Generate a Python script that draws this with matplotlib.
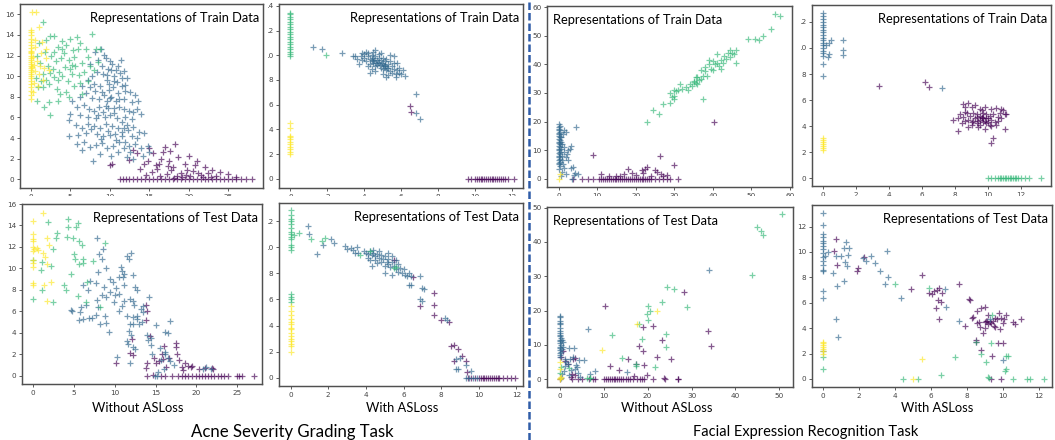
import numpy as np
import matplotlib
matplotlib.use('Agg')
import matplotlib.pyplot as plt
from matplotlib.patches import Rectangle
from matplotlib.lines import Line2D

# class colours (viridis, 4 classes)
class_colors = [plt.cm.viridis(v) for v in (0.0, 1 / 3, 2 / 3, 1.0)]

# ---------------- Acne, train, without ASLoss ----------------
acne_tr_wo_purple = [(11.3,0),(11.7,0),(12.1,0),(12.5,0),(13.0,0),(13.5,0),(14.0,0),(14.5,0),(15.0,0),(15.5,0),
    (16.0,0),(16.5,0),(17.0,0),(17.5,0),(18.0,0),(18.5,0),(19.0,0),(19.5,0),(20.0,0),(20.5,0),(21.0,0),(21.5,0),
    (22.0,0),(22.5,0),(23.0,0),(23.5,0),(24.0,0),(24.5,0),(25.0,0),(25.5,0),(26.0,0),(26.6,0),(27.2,0),(28.0,0),
    (10.3,1.5),(10.0,1.4),(12.5,1.9),(13.5,2.5),(14.3,1.5),(15.0,3.0),(15.5,2.5),(16.0,1.0),(16.5,2.0),(17.0,3.1),
    (17.5,1.8),(18.0,1.2),(18.3,3.4),(18.7,2.2),(19.0,0.6),(19.5,1.5),(20.0,2.3),(20.5,0.8),(21.0,1.8),(21.6,0.4),
    (22.0,1.2),(22.5,0.6),(23.0,0.9),(23.5,0.3),(24.0,0.7),(25.0,0.5),(26.0,0.2),(15.3,0.7),(16.2,1.5),(17.2,0.5),
    (17.8,0.9),(18.5,0.3),(19.2,0.2),(20.2,0.3),(21.2,0.6),(14.6,0.4),(13.8,1.0),(16.8,2.6),(19.8,0.9),(20.8,1.4),
    (22.8,0.2),(17.6,2.7),(12.9,2.8),(14.8,1.8),(18.2,0.1),(19.6,0.4),(21.8,0.2),(17.4,1.3),(16.4,0.3),(15.8,1.4)]
acne_tr_wo_blue = [(8.9,12.6),(9.3,12.1),(10.0,11.5),(8.2,12.3),(7.5,11.2),(8.5,11.6),(9.5,11.8),(10.3,11.2),
    (11.0,11.0),(9.0,11.0),(10.8,10.6),(7.8,10.0),(8.4,10.4),(9.2,10.2),(9.8,10.7),(10.5,10.0),(11.3,10.3),
    (11.8,10.5),(12.2,9.8),(9.6,9.6),(10.9,9.4),(8.0,9.2),(7.2,9.6),(11.6,9.8),(6.5,9.0),(7.0,8.4),(7.5,8.9),
    (8.2,8.6),(8.8,9.0),(9.3,8.2),(9.9,8.7),(10.4,8.9),(11.0,8.4),(11.5,9.0),(12.0,8.6),(12.6,8.5),(13.2,8.2),
    (6.2,8.0),(7.7,7.9),(8.6,7.8),(9.6,7.6),(10.2,8.0),(10.8,7.6),(11.8,7.8),(12.8,7.5),(13.6,7.6),(5.2,7.6),
    (5.8,7.0),(6.8,7.2),(7.4,6.8),(8.0,6.6),(8.6,7.0),(9.1,6.5),(9.8,6.9),(10.5,6.9),(11.2,7.0),(11.8,6.8),
    (12.4,6.6),(13.0,6.5),(13.5,6.8),(14.0,6.3),(5.0,6.3),(6.2,6.2),(7.2,6.0),(8.3,5.9),(9.4,6.0),(10.1,6.2),
    (10.9,5.9),(12.0,6.0),(12.8,5.8),(4.9,5.7),(5.7,5.3),(6.5,5.0),(7.3,5.4),(8.0,5.2),(8.8,5.0),(9.5,5.4),
    (10.3,5.2),(11.0,5.0),(11.8,5.0),(12.3,4.8),(13.0,5.1),(13.7,4.6),(14.4,4.5),(4.8,4.2),(6.0,4.3),(7.0,4.5),
    (8.4,4.4),(9.2,4.2),(10.0,4.3),(10.7,4.4),(11.5,4.2),(12.8,4.2),(13.5,4.0),(5.9,3.4),(6.7,3.6),(7.5,3.1),
    (8.3,3.3),(9.0,3.5),(9.6,3.0),(10.4,3.2),(11.2,3.6),(11.8,3.0),(12.5,3.2),(13.2,3.4),(14.0,3.0),(14.8,3.2),
    (6.5,2.8),(7.9,1.8),(8.8,2.4),(10.2,2.3),(11.0,2.6),(12.2,2.2),(13.0,2.0),(14.2,2.3),(15.0,2.6),(9.9,9.2),
    (10.6,9.5),(9.0,8.5),(10.0,7.9),(11.2,7.8),(9.5,7.1),(10.6,6.4),(8.5,6.2),(11.5,5.6),(12.2,5.3),(9.8,4.7),
    (10.8,3.8),(11.6,4.6),(7.6,4.9),(8.9,3.9),(12.0,3.6),(12.6,2.6),(11.4,11.6),(9.7,10.1),(10.2,10.6),(11.9,9.1)]
acne_tr_wo_green = [(1.6,15.3),(2.5,13.9),(3.0,13.9),(4.0,13.4),(4.5,13.0),(5.0,13.6),(5.8,13.8),(6.2,13.2),
    (7.8,14.1),(1.0,13.2),(2.0,13.5),(3.5,12.8),(4.2,12.2),(5.3,12.5),(6.0,12.6),(7.0,12.6),(8.3,12.6),(8.8,12.6),
    (0.8,12.0),(1.8,12.3),(2.6,12.0),(3.2,11.5),(3.8,11.8),(4.8,11.6),(5.5,11.9),(6.5,11.3),(7.3,11.9),(1.2,11.3),
    (2.2,11.0),(2.8,10.7),(3.6,10.4),(4.4,10.9),(5.0,10.7),(5.6,11.0),(6.1,10.1),(7.5,11.0),(0.7,9.8),(1.5,10.2),
    (2.0,9.6),(2.9,9.9),(3.4,9.6),(4.0,10.0),(4.7,9.5),(5.2,10.2),(6.3,9.3),(8.0,10.6),(0.9,8.9),(1.6,8.9),
    (2.3,9.2),(3.3,8.8),(4.5,8.5),(6.5,8.3),(0.8,7.6),(2.3,7.5),(3.5,7.6),(4.8,8.0),(2.4,6.2),(1.7,7.0),
    (3.7,8.3),(5.5,9.0),(6.8,10.4),(7.2,9.5),(8.5,11.4),(4.0,12.6),(3.0,12.3),(5.2,11.1),(2.5,10.3),(1.3,9.5)]
acne_tr_wo_yellow = [(0,7.8),(0,8.2),(0,8.6),(0,8.9),(0,9.2),(0,9.5),(0,9.8),(0,10.0),(0,10.2),(0,10.4),(0,10.6),
    (0,10.8),(0,11.0),(0,11.2),(0,11.4),(0,11.6),(0,11.8),(0,12.0),(0,12.2),(0,12.4),(0,12.7),(0,13.0),(0,13.3),
    (0,13.6),(0,14.0),(0,14.3),(0,14.5),(0.2,16.2),(0.7,16.2),(1.0,14.8),(0.4,9.3),(0.6,10.5),(0.8,11.5),(1.1,10.2),
    (1.3,12.2),(0.5,12.8),(1.5,9.6),(1.2,11.0),(0.3,11.9),(1.7,10.8),(2.0,11.8),(0.9,9.0),(0.6,13.5),(2.3,10.6),
    (1.9,12.6),(1.4,13.3),(0.3,8.5),(0.2,10.9),(0.1,12.3),(0.4,11.1)]

# ---------------- Acne, train, with ASLoss ----------------
acne_tr_w_purple = [(9.6,0),(9.8,0),(10.0,0),(10.1,0),(10.2,0),(10.3,0),(10.4,0),(10.5,0),(10.6,0),(10.7,0),
    (10.8,0),(10.9,0),(11.0,0),(11.1,0),(11.2,0),(11.3,0),(11.4,0),(11.5,0),(11.6,0),(11.8,0),(12.1,0),
    (6.5,5.9),(6.55,5.4)]
acne_tr_w_blue = [(1.2,10.7),(1.7,10.5),(2.8,10.2),(3.5,9.95),(3.6,9.7),(3.8,9.9),(3.9,9.6),(4.0,10.1),(4.0,9.8),
    (4.1,9.5),(4.2,10.2),(4.2,9.9),(4.3,9.7),(4.3,9.3),(4.4,10.0),(4.4,9.6),(4.5,10.3),(4.5,9.8),(4.5,9.4),(4.6,9.1),
    (4.6,9.9),(4.7,9.6),(4.7,9.2),(4.8,10.1),(4.8,9.8),(4.8,9.4),(4.9,9.0),(4.9,9.6),(5.0,9.3),(5.0,9.8),(5.0,8.9),
    (5.1,9.5),(5.1,9.1),(5.2,9.7),(5.2,8.8),(5.3,9.3),(5.3,9.0),(5.4,8.7),(5.4,9.5),(5.5,9.1),(5.5,8.6),(5.6,8.9),
    (5.6,9.4),(5.7,8.5),(5.8,8.8),(5.9,9.0),(5.9,8.6),(6.0,8.5),(6.2,8.3),(4.2,9.1),(4.4,8.9),(3.7,9.3),(4.6,8.7),
    (5.0,8.5),(5.3,8.4),(4.1,10.3),(4.6,10.4),(5.6,9.9),(5.8,9.4),(5.4,10.0),(4.9,10.2),(3.4,9.9),(3.9,10.2),
    (4.3,8.6),(5.2,8.2),(5.7,8.2),(6.1,8.8),(6.8,6.85),(6.8,5.3),(7.0,4.8),
    (4.45,9.5),(4.65,9.35),(4.85,9.25),(5.05,9.15),(4.75,9.45),(4.95,9.35),(5.15,9.25),(4.55,9.65),(5.25,9.0)]
acne_tr_w_green = [(0,9.9),(0,10.1),(0,10.3),(0,10.5),(0,10.7),(0,10.9),(0,11.1),(0,11.3),(0,11.5),(0,11.7),
    (0,11.9),(0,12.1),(0,12.3),(0,12.5),(0,12.7),(0,12.9),(0,13.1),(0,13.3),(0,13.45),(1.95,10.05)]
acne_tr_w_yellow = [(0,2.0),(0,2.2),(0,2.4),(0,2.6),(0,2.8),(0,3.0),(0,3.2),(0,3.4),(0,3.5),(0,4.1),(0,4.55)]

# ---------------- Acne, test, without ASLoss ----------------
acne_te_wo_purple = [(13.8,6.6),(14.0,6.0),(13.8,5.2),(12.1,3.4),(11.9,2.1),(12.2,1.9),(10.2,1.2),(13.9,1.2),
    (13.8,0.7),(14.7,0.1),(14.0,0),(14.3,3.7),(14.8,1.7),(15.0,1.2),(15.4,1.4),(15.8,2.0),(16.0,2.8),(15.9,1.6),
    (16.7,1.7),(16.3,0.8),(17.5,3.1),(17.5,2.7),(17.6,2.0),(17.9,1.5),(18.2,0.8),(18.6,1.2),(18.3,0.5),(19.0,0.9),
    (19.3,0.8),(19.5,0.9),(20.3,0.6),(21.0,0.7),(21.9,0.7),(22.0,0.6),(15.7,0),(16.2,0),(17.0,0),(17.8,0),(18.2,0),
    (18.6,0),(19.0,0),(19.5,0),(20.0,0),(20.3,0),(20.7,0),(21.0,0),(21.4,0),(21.8,0),(22.2,0),(22.6,0),(23.0,0),
    (23.4,0),(23.8,0),(24.9,0),(25.2,0),(25.6,0),(27.0,0)]
acne_te_wo_blue = [(7.9,12.8),(8.6,11.8),(8.1,11.3),(8.5,10.9),(11.5,11.2),(12.0,11.4),(11.8,10.9),(10.8,10.1),
    (10.9,9.8),(11.2,9.5),(10.5,9.2),(11.0,9.2),(12.3,9.4),(9.0,10.0),(8.0,9.7),(9.4,9.0),(9.8,8.7),(10.2,8.2),
    (9.5,7.8),(10.0,7.5),(10.5,7.6),(11.2,8.5),(12.5,8.3),(12.8,8.0),(8.7,8.3),(7.7,8.6),(6.8,8.0),(6.2,8.5),
    (7.8,7.1),(9.0,7.3),(9.9,6.9),(11.2,7.0),(11.9,7.2),(12.2,7.0),(12.4,6.6),(13.2,6.2),(13.5,5.9),(14.2,7.3),
    (10.9,6.5),(10.5,6.0),(11.5,5.6),(12.2,5.5),(12.7,5.6),(13.3,5.0),(13.0,4.8),(12.3,4.8),(11.9,4.8),(8.0,6.4),
    (7.3,5.4),(6.9,5.4),(6.2,5.3),(5.6,5.2),(5.8,5.9),(6.5,6.6),(5.9,6.4),(4.7,6.1),(4.8,6.0),(7.7,5.7),(8.2,4.8),
    (9.0,4.9),(9.3,4.1),(8.8,5.6),(11.8,4.2),(11.5,3.2),(11.7,3.0),(12.0,3.8),(12.5,2.5),(12.3,2.7),(14.0,3.8),
    (14.4,3.5),(14.1,3.3),(15.0,4.7),(16.2,4.1),(16.5,4.0),(16.8,5.1),(14.4,2.9),(14.6,2.0),(15.6,2.6),(15.7,1.5),
    (16.5,1.7),(16.8,1.4),(17.2,1.0),(16.0,0.6),(15.3,0.4),(14.9,0),(15.2,0),(10.3,1.8),(11.9,1.2),(16.1,2.2),
    (16.2,2.0),(21.8,0.6),(21.2,0.8),(20.8,0.6),(13.5,6.5),(12.8,5.3),(7.0,8.8),(8.5,7.5)]
acne_te_wo_green = [(4.3,14.6),(1.9,14.3),(5.5,14.2),(5.3,13.9),(4.3,13.9),(3.0,13.3),(2.9,12.8),(4.2,12.9),
    (4.9,12.8),(5.7,12.6),(6.0,12.2),(2.5,11.8),(5.0,11.3),(5.2,10.9),(5.6,10.4),(6.1,10.5),(6.2,10.9),(1.2,10.6),
    (0.1,10.8),(1.0,9.9),(2.2,10.2),(4.7,9.5),(8.8,12.4),(6.6,8.7),(3.8,8.5),(4.1,8.0),(1.2,8.0),(2.5,6.9),
    (0.1,7.2),(5.5,7.4),(8.2,6.4),(7.4,10.7),(6.5,6.9)]
acne_te_wo_yellow = [(1.3,15.2),(0,14.4),(0,13.2),(0,12.7),(0.1,12.6),(0,12.0),(0.2,11.8),(0.5,11.9),(0.1,11.6),
    (0,10.8),(0,10.5),(0.1,10.1),(0,8.6),(0.1,8.5),(1.3,11.4),(1.5,11.1),(1.8,12.8),(2.0,12.2),(1.8,10.4),
    (2.2,8.7),(1.4,8.5),(1.8,7.0),(0.6,11.7)]

# ---------------- Acne, test, with ASLoss ----------------
acne_te_w_purple = [(6.5,7.7),(5.5,9.0),(7.6,6.5),(7.6,5.6),(7.6,4.8),(6.9,5.5),(8.0,4.4),(8.4,4.3),(8.5,2.4),
    (8.7,2.5),(8.9,2.2),(8.7,1.25),(9.1,1.7),(9.3,1.25),(9.35,0.4),(9.4,0),(9.6,0),(9.8,0),(10.0,0),(10.1,0),
    (10.2,0),(10.3,0),(10.4,0),(10.5,0),(10.6,0),(10.7,0),(10.8,0),(10.9,0),(11.0,0),(11.1,0),(11.3,0),(11.5,0),
    (11.7,0),(11.9,0)]
acne_te_w_blue = [(0.9,11.65),(1.0,11.0),(1.7,10.2),(2.15,10.65),(2.3,10.35),(1.4,9.5),(2.9,10.1),(3.2,9.95),
    (3.3,9.8),(3.4,9.55),(3.5,10.0),(3.9,9.7),(4.0,9.6),(4.1,9.5),(4.2,9.7),(4.1,9.2),(4.3,9.4),(4.4,9.6),(4.5,9.3),
    (4.5,9.0),(4.6,9.5),(4.7,9.2),(4.8,9.4),(4.8,8.9),(4.9,9.1),(5.0,9.3),(5.0,8.6),(5.1,8.9),(5.2,9.1),(5.2,8.7),
    (5.3,8.5),(5.4,8.9),(5.5,8.6),(5.6,8.3),(5.7,8.7),(5.7,8.1),(5.8,8.4),(5.9,8.0),(6.0,8.3),(6.1,7.9),(6.2,7.8),
    (6.3,8.0),(6.4,7.8),(4.3,8.6),(4.6,8.8),(5.4,7.9),(5.0,8.0),(4.2,9.0),(4.4,9.8),(4.7,9.7),(5.2,9.6),(5.4,9.3),
    (5.6,9.0),(3.6,9.6),(3.0,9.9),(6.3,7.1),(6.4,7.1),(6.9,7.8),(7.0,6.9),(7.1,6.8),(6.9,6.0),(7.0,5.9),(8.2,4.6),
    (8.3,4.4),(8.8,1.4),(8.8,0.7),(8.9,0.7),(9.0,1.5),(9.3,1.0),(9.6,0.5),(9.3,0),(9.5,0),(9.7,0),(9.9,0)]
acne_te_w_green = [(0,9.8),(0,10.0),(0,10.2),(0,10.6),(0,10.8),(0,11.0),(0,11.2),(0,11.5),(0,11.8),(0,12.0),
    (0,12.2),(0,12.5),(0,12.85),(0.2,10.95),(0.45,11.1),(1.1,10.6),(1.65,10.5),(1.85,10.75),(3.7,9.4),(4.2,9.75),
    (5.5,8.4),(5.6,8.5),(0,5.8),(0,6.0),(0,6.2),(0,6.45)]
acne_te_w_yellow = [(0,2.0),(0,2.4),(0,2.6),(0,2.8),(0,3.0),(0,3.2),(0,3.4),(0,3.7),(0,3.8),(0,4.1),(0,4.3),
    (0,4.5),(0,4.8),(0,5.1),(0,5.5)]

# ---------------- Facial expression, train, without ASLoss ----------------
fer_tr_wo_purple = [(3.8,0),(6,0),(7.5,0),(9,0),(10.5,0),(11,0),(11.5,0),(12,0),(12.5,0),(13,0),(13.5,0),(14,0),
    (14.5,0),(15,0),(15.5,0),(16,0),(16.5,0),(17,0),(17.5,0),(18,0),(18.5,0),(19,0),(19.5,0),(20,0),(20.5,0),
    (21,0),(21.5,0),(22,0),(22.5,0),(23,0),(23.5,0),(24,0),(25,0),(26,0),(27,0),(28,0),(29,0),(31,0),
    (9,8.2),(26.2,8),(40.3,19.8),(30,4.8),(11,1.5),(15,1),(17,1.8),(18,3.5),(21.5,3),(22.5,3.3),(23,4),(25,3),
    (25.5,2.5),(26.5,1.5),(24,1),(16,0.8),(20,1.2),(27,0.8),(13,1),(19,2),(28,1.2),(22,2)]
fer_tr_wo_blue = [(0.1,3.5),(0.3,4.5),(0.0,5.0),(0.2,5.5),(0.4,6.0),(0.1,6.5),(0.3,7.0),(0.0,7.5),(0.2,8.0),
    (0.4,8.5),(0.1,9.0),(0.3,9.5),(0.0,10),(0.2,10.5),(0.4,11),(0.1,11.5),(0.3,12),(0.0,12.5),(0.2,13),(0.4,13.5),
    (0.1,14),(0.3,14.5),(0.0,15),(0.2,15.5),(0.1,16),(0.3,16.5),(0.0,17),(0.2,17.5),(0.1,18),(0.3,18.5),(0.0,19),
    (1.5,17.0),(2.0,16.5),(4.5,18.0),(1.0,12),(1.5,11),(2.5,10.0),(3.0,10.5),(3.3,11.5),(0.8,8),(1.8,7.5),(2.5,6.5),
    (1.2,5),(1.5,3.8),(0.8,2.5),(2.0,1.5),(3.3,3.8),(3.7,4.0),(4.2,2.0),(4.0,1.3),(5.0,1.5),(0.5,1.0),(1.0,6.5),
    (2.2,8.5),(1.3,9.5),(0.7,14.5),(1.2,15.5),(3.5,0),(0.6,10.5),(0.7,12.8)]
fer_tr_wo_green = [(23,20),(24.5,24.2),(26,22.5),(27,26),(29,26.5),(29,30),(29.5,28.5),(30,29),(30.5,30.5),
    (31,31),(31.5,33),(29.8,28),(32,31.5),(33,32),(34,33),(34.5,32.5),(35,34),(35.5,33.5),(36,33),(36,35.5),
    (37,35),(37.5,36),(37,38),(38,37.5),(38.5,36),(39,40),(39.5,38.5),(40,41),(40.5,40),(41,40.5),(41.5,39.5),
    (42,41.5),(42.5,40.5),(43,43),(43.5,42),(44,44),(44.5,42.5),(45,44),(45.5,43.5),(46,45),(46,40.5),(37.5,28),
    (35,33.8),(38,39),(40,38),(42,38.5),(49,49),(51,49),(52,48.5),(53,50),(55,52.5),(56.2,57.5),(57.5,57),
    (33.5,31),(36.5,34.5),(39,41.5),(44.5,45),(41,43.5),(35.5,35.5),(30,31)]
fer_tr_wo_yellow = [(0,0),(0.4,1.8)]

# ---------------- Facial expression, train, with ASLoss ----------------
fer_tr_w_purple = [(8.5,5.7),(8.6,5.5),(8.8,5.8),(9.0,5.5),(9.2,5.6),(9.5,5.3),(9.8,5.5),(10.2,5.3),(10.5,5.4),
    (10.8,5.3),(11.0,4.9),(10.9,5.2),(8.3,4.9),(8.5,4.7),(8.7,5.0),(8.9,4.8),(9.1,5.0),(9.3,4.9),(9.5,4.8),
    (9.7,5.0),(9.9,4.9),(10.1,4.8),(10.3,4.9),(10.6,4.7),(10.8,4.6),(11.1,4.9),(8.2,4.6),(8.6,4.4),(8.8,4.5),
    (9.0,4.3),(9.2,4.6),(9.4,4.4),(9.6,4.6),(9.8,4.4),(10.0,4.6),(10.2,4.5),(10.4,4.3),(10.6,4.4),(8.4,4.2),
    (9.0,4.1),(9.3,4.2),(9.5,4.1),(9.7,4.3),(9.9,4.2),(10.1,4.1),(10.5,4.1),(8.8,3.9),(9.4,3.9),(9.8,3.8),
    (10.2,4.0),(9.6,4.7),(9.5,4.5),(9.7,4.6),(9.3,4.7),(10.0,4.3),(9.1,4.4),(9.9,4.6),(10.7,5.0),(8.6,5.1),
    (9.6,5.2),(10.2,2.7),(10.3,3.1),(11.0,3.8),(8.2,3.6),(7.9,4.5),(3.4,7.1),(6.2,7.35),(6.45,7.0)]
fer_tr_w_blue = [(0,9.4),(0,9.6),(0,9.8),(0,10.0),(0,10.2),(0,10.4),(0,10.6),(0,10.8),(0,11.0),(0,11.2),(0,11.4),
    (0,11.6),(0,11.8),(0,12.0),(0,12.2),(0,12.45),(0,12.7),(0,8.75),(0,7.85),(0.3,9.3),(0.4,10.4),(0.5,10.6),
    (0.35,9.5),(1.2,9.85),(1.2,9.45),(1.25,10.65),(0.2,10.2),(7.2,6.9)]
fer_tr_w_green = [(10.0,0),(10.2,0),(10.4,0),(10.6,0),(10.7,0),(10.8,0),(10.9,0),(11.0,0),(11.1,0),(11.2,0),
    (11.3,0),(11.4,0),(11.5,0),(11.6,0),(11.7,0),(11.8,0),(12.0,0),(12.2,0),(12.5,0),(13.2,0)]
fer_tr_w_yellow = [(0,2.2),(0,2.35),(0,2.5),(0,2.65),(0,2.8),(0,2.95),(0,3.1)]

# ---------------- Facial expression, test, without ASLoss ----------------
fer_te_wo_purple = [(10.4,21.3),(28.3,25.3),(21.2,15.6),(19,15.3),(33.8,14),(34.5,9.6),(23.3,11.4),(18,9.6),
    (19,8.1),(22.2,6.5),(25.3,5.8),(11.4,3.8),(13.5,2.8),(15.5,6),(17.4,4.3),(19.1,4),(19.8,1.2),(16.8,1.0),
    (0.8,8.2),(1.1,5.2),(0.2,6.5),(3.0,5.8),(3.4,6.2),(1.8,4.3),(2.9,1.5),(3.4,1.2),(2.5,0.5),(23.8,0.4),(27,0.1),
    (0,0.1),(2.7,0),(4.1,0),(5.0,0),(6.6,0),(7.6,0),(8.0,0),(10.1,0),(10.6,0),(11.0,0),(11.4,0),(11.8,0),(12.3,0),
    (12.6,0),(13.0,0),(13.4,0),(14.0,0),(14.5,0),(15.0,0),(15.5,0),(16.0,0),(16.7,0),(17.5,0),(18.2,0),(18.8,0),
    (19.2,0),(21.2,0),(24.0,0),(27.0,0)]
fer_te_wo_blue = [(0,6.5),(0.1,7.0),(0,7.5),(0.2,8.0),(0,8.5),(0.1,9.0),(0,9.5),(0.2,10),(0,10.5),(0.1,11),
    (0,11.5),(0.2,12),(0,12.5),(0.1,13),(0,13.5),(0.1,14),(0,15),(0.1,16),(0,16.5),(0.1,17),(0,18),(0.1,18.5),
    (0.7,10.8),(0.5,11.5),(0.8,9.5),(0.6,8.8),(1.2,6.0),(1.5,5.0),(1.8,4.5),(2.2,9.0),(3.3,9.2),(3.1,6.5),(2.4,5.8),
    (4.4,5.5),(5.5,5.6),(4.0,3.5),(4.2,1.8),(3.5,3.0),(2.5,2.8),(1.2,3.8),(2.0,1.2),(6.8,1.4),(8.1,2.3),(6.5,14.5),
    (15.3,2.2),(34,31.8),(0.2,0.4),(0.6,1.5),(1.0,2.5),(3.8,4.0),(4.5,0.5)]
fer_te_wo_green = [(50.5,48.2),(45,44.5),(45.8,43.2),(46.2,42),(43.8,30.5),(24.5,27),(26,26.2),(28.9,21),
    (23.2,22.5),(20.2,21.2),(20.5,20),(19.8,19),(20.1,17.3),(18,16.2),(12,12.8),(18.8,11.6),(24.1,13.3),
    (24.2,9.5),(21.6,3.5),(17.3,4.5),(17.3,3.7),(14.2,6.2),(0,1.8),(0.3,3.5),(6.8,0.3),(6.3,0.2),(7.0,0.2),
    (2.2,3.3)]
fer_te_wo_yellow = [(17.5,16),(22.1,20),(9.6,8.5),(0,5),(0,3),(0,0.2),(0.2,0.5),(0,0)]

# ---------------- Facial expression, test, with ASLoss ----------------
fer_te_w_purple = [(0.6,10.1),(0.75,11.0),(0.8,9.0),(1.9,8.5),(1.95,8.75),(2.3,9.6),(5.5,8.2),(4.9,7.05),
    (5.9,6.8),(6.1,6.7),(6.2,6.9),(6.35,7.0),(6.45,7.15),(6.4,6.2),(6.45,4.7),(6.3,5.6),(6.6,6.05),(6.65,6.75),
    (7.6,7.45),(7.9,4.2),(8.15,6.3),(8.2,6.2),(8.35,4.85),(8.6,5.35),(8.5,3.05),(8.55,2.9),(8.8,2.3),(9.0,5.7),
    (9.2,5.0),(8.8,5.6),(8.6,4.4),(8.7,4.5),(8.9,3.6),(9.0,4.0),(9.1,4.6),(9.2,4.3),(9.3,4.5),(9.35,4.4),
    (9.45,4.6),(9.5,4.2),(9.6,4.8),(9.7,4.7),(9.8,5.2),(9.9,4.8),(9.6,4.1),(9.85,3.9),(10.0,4.4),(10.1,4.7),
    (10.2,5.0),(9.75,2.8),(10.05,2.8),(9.4,1.8),(8.3,4.8),(8.75,4.1),(10.6,4.5),(10.7,4.35),(11.0,4.7),(9.35,0),
    (9.9,0),(9.15,4.55),(9.0,4.45)]
fer_te_w_blue = [(0,8.5),(0,8.6),(0,9.0),(0,9.3),(0,9.6),(0,9.9),(0,10.2),(0,10.5),(0,10.7),(0,10.9),(0,11.2),
    (0,11.4),(0,12.1),(0,13.05),(0,6.9),(0,6.4),(0,2.2),(0.15,9.7),(0.3,10.0),(0.55,8.35),(0.75,9.7),(0.75,4.7),
    (0.85,3.3),(0.8,7.3),(1.0,9.7),(1.2,10.3),(1.25,9.2),(1.3,10.75),(1.35,8.9),(1.4,9.8),(1.45,10.3),(1.2,7.7),
    (2.25,9.5),(2.4,9.3),(2.7,9.65),(2.9,9.15),(3.2,8.5),(3.45,7.45),(3.55,10.1),(3.6,8.0),(4.35,6.4),(6.8,7.05),
    (6.85,5.65),(7.6,4.6),(10.05,1.5),(9.3,4.7)]
fer_te_w_green = [(0,1.75),(0,0.8),(4.0,7.45),(5.9,7.2),(7.35,1.75),(8.55,2.9),(8.8,1.95),(9.1,1.3),(9.2,0.15),
    (9.35,2.85),(9.4,5.0),(10.2,1.8),(10.3,1.85),(10.2,0.8),(10.15,0.65),(10.6,0),(4.45,0),(5.3,0),(6.6,0.35),
    (11.35,0),(11.5,0),(12.3,0),(9.25,0.1)]
fer_te_w_yellow = [(0,2.0),(0,2.2),(0,2.4),(0,2.55),(0,2.7),(0,2.85),(0,2.95),(5.5,1.55),(5.0,0)]

# panel setup: pixel box (left, top, right, bottom), limits, ticks, title, title side
W, H = 1055, 440
panels = [
    ((20, 4, 263, 188), (-1.35, 29.4), (-0.85, 17.0), range(0, 26, 5), range(0, 17, 2),
     [acne_tr_wo_purple, acne_tr_wo_blue, acne_tr_wo_green, acne_tr_wo_yellow], "Representations of Train Data", "right"),
    ((279, 4, 523, 188), (-0.62, 12.6), (-0.75, 14.15), range(0, 13, 2), range(0, 15, 2),
     [acne_tr_w_purple, acne_tr_w_blue, acne_tr_w_green, acne_tr_w_yellow], "Representations of Train Data", "right"),
    ((547, 6, 792, 187), (-3.0, 60.5), (-2.9, 60.4), range(0, 61, 10), range(0, 61, 10),
     [fer_tr_wo_purple, fer_tr_wo_blue, fer_tr_wo_green, fer_tr_wo_yellow], "Representations of Train Data", "left"),
    ((812, 5, 1051, 186), (-0.65, 13.8), (-0.6, 13.3), range(0, 13, 2), range(0, 13, 2),
     [fer_tr_w_purple, fer_tr_w_blue, fer_tr_w_green, fer_tr_w_yellow], "Representations of Train Data", "right"),
    ((22, 204, 262, 384), (-1.3, 28.0), (-0.76, 15.97), range(0, 26, 5), range(0, 17, 2),
     [acne_te_wo_purple, acne_te_wo_blue, acne_te_wo_green, acne_te_wo_yellow], "Representations of Test Data", "right"),
    ((279, 203, 523, 386), (-0.62, 12.35), (-0.64, 13.4), range(0, 13, 2), range(0, 13, 2),
     [acne_te_w_purple, acne_te_w_blue, acne_te_w_green, acne_te_w_yellow], "Representations of Test Data", "right"),
    ((547, 207, 793, 387), (-2.9, 53.1), (-2.3, 50.2), range(0, 51, 10), range(0, 51, 10),
     [fer_te_wo_purple, fer_te_wo_blue, fer_te_wo_green, fer_te_wo_yellow], "Representations of Test Data", "left"),
    ((812, 205, 1052, 387), (-0.6, 12.75), (-0.63, 13.7), range(0, 13, 2), range(0, 13, 2),
     [fer_te_w_purple, fer_te_w_blue, fer_te_w_green, fer_te_w_yellow], "Representations of Test Data", "right"),
]

fig = plt.figure(figsize=(W / 100, H / 100), dpi=100)
text_font = ['Lato', 'DejaVu Sans']

for box, xl, yl, xt, yt, groups, title, side in panels:
    l, t, r, b = box
    ax = fig.add_axes([l / W, 1 - b / H, (r - l) / W, (b - t) / H])
    for cls, pts in enumerate(groups):
        pts = np.array(pts, dtype=float)
        ax.scatter(pts[:, 0], pts[:, 1], marker='+', s=24, linewidths=0.9,
                   color=class_colors[cls], alpha=0.65)
    ax.set_xlim(*xl)
    ax.set_ylim(*yl)
    ax.set_xticks(list(xt))
    ax.set_yticks(list(yt))
    ax.tick_params(labelsize=5.2, length=2.5, width=0.6, pad=1.5, colors='#444444')
    for sp in ax.spines.values():
        sp.set_color('#505050')
        sp.set_linewidth(1.05)
    if side == "right":
        ax.text(0.985, 0.955, title, transform=ax.transAxes, ha='right', va='top',
                fontsize=9.3, family=text_font)
    else:
        ax.text(0.025, 0.955, title, transform=ax.transAxes, ha='left', va='top',
                fontsize=9.3, family=text_font)

# white strips where the original panels were cropped
def white_strip(x0, y0, x1, y1):
    fig.patches.append(Rectangle((x0 / W, 1 - y1 / H), (x1 - x0) / W, (y1 - y0) / H,
                                 transform=fig.transFigure, facecolor='white',
                                 edgecolor='none', zorder=5))

white_strip(0, 195.5, W, 200)
white_strip(264.5, 0, 267.6, 195.5)
white_strip(264.5, 200, 268.3, 395)
white_strip(794, 0, 800.6, 195.5)

# sub-captions
for xc, label in [(138, "Without ASLoss"), (402, "With ASLoss"), (667, "Without ASLoss"), (937, "With ASLoss")]:
    fig.text(xc / W, 1 - 408 / H, label, ha='center', va='center', fontsize=9.3, family=text_font)
fig.text(292 / W, 1 - 432 / H, "Acne Severity Grading Task", ha='center', va='center', fontsize=12.1, family=text_font)
fig.text(806 / W, 1 - 432 / H, "Facial Expression Recognition Task", ha='center', va='center', fontsize=10.5, family=text_font)

# dashed separator
fig.lines.append(Line2D([529 / W, 529 / W], [0, 1], transform=fig.transFigure, color='#2f5ca8',
                        linewidth=1.8, linestyle=(0, (3, 1.2)), zorder=6))

fig.savefig("out.png", dpi=100)
